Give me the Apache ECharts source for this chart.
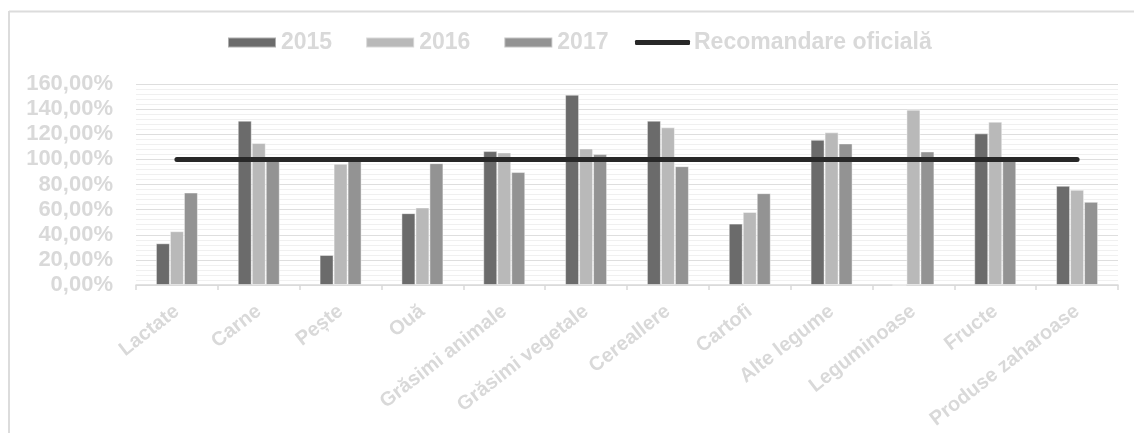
<!DOCTYPE html>
<html>
<head>
<meta charset="utf-8">
<script src="https://cdn.jsdelivr.net/npm/echarts@6/dist/echarts.min.js"></script>
<style>
  html, body { margin: 0; padding: 0; background: #ffffff; }
  #chart { width: 1134px; height: 433px; }
</style>
</head>
<body>
<div id="chart"></div>
<script>
// Food groups consumed, as a share of the official recommendation
const categories = ['Lactate', 'Carne', 'Pește', 'Ouă', 'Grăsimi animale', 'Grăsimi vegetale',
  'Cereallere', 'Cartofi', 'Alte legume', 'Leguminoase', 'Fructe', 'Produse zaharoase'];

// Values in percent
const values2015 = [33.2, 130.8, 23.9, 57.2, 106.6, 151.5, 130.8, 48.9, 115.6, 0, 120.7, 79.0];
const values2016 = [42.8, 113.0, 96.5, 61.7, 105.5, 108.7, 125.5, 58.2, 121.5, 139.6, 130.0, 75.8];
const values2017 = [73.6, 100.0, 99.0, 97.0, 89.9, 104.2, 94.6, 73.1, 112.7, 106.3, 100.0, 66.2];
const recommendation = [100, 100, 100, 100, 100, 100, 100, 100, 100, 100, 100, 100];

const yTicks = { min: 0, max: 160, interval: 20 };

const textColor = '#d9d9d9';
const fontFamily = '"Liberation Sans", Arial, sans-serif';

const chart = echarts.init(document.getElementById('chart'), null, { renderer: 'canvas' });

const barStyle = (color) => ({
  type: 'bar',
  barWidth: 14,
  barGap: '0%',
  itemStyle: { color: color, borderColor: 'rgba(255,255,255,0.45)', borderWidth: 1 },
  z: 2
});

const legendText = { color: textColor, fontSize: 23, fontWeight: 'bold', fontFamily: fontFamily };

chart.setOption({
  animation: false,
  backgroundColor: '#ffffff',
  textStyle: { fontFamily: fontFamily },
  graphic: [
    { type: 'line', shape: { x1: 9, y1: 11.5, x2: 1134, y2: 11.5 }, style: { stroke: '#dcdcdc', lineWidth: 2 } },
    { type: 'line', shape: { x1: 9, y1: 11, x2: 9, y2: 433 }, style: { stroke: '#dcdcdc', lineWidth: 2 } }
  ],
  legend: [
    {
      data: ['2015', '2016', '2017'],
      left: 227,
      top: 31,
      padding: 0,
      itemWidth: 48,
      itemHeight: 10,
      itemGap: 33,
      icon: 'rect',
      textStyle: Object.assign({ padding: [0, 0, 0, 0] }, legendText)
    },
    {
      data: ['Recomandare oficială'],
      left: 635,
      top: 31,
      padding: 0,
      itemWidth: 55,
      itemHeight: 5,
      icon: 'roundRect',
      textStyle: Object.assign({ padding: [0, 0, 0, -1] }, legendText)
    }
  ],
  grid: { left: 136, right: 16, top: 84, bottom: 148, containLabel: false },
  xAxis: {
    type: 'category',
    data: categories,
    boundaryGap: true,
    axisLine: { lineStyle: { color: '#d9d9d9', width: 1.5 } },
    axisTick: { show: true, length: 5, lineStyle: { color: '#d9d9d9', width: 1.5 } },
    axisLabel: {
      interval: 0,
      rotate: 38,
      margin: 24,
      color: textColor,
      fontSize: 20,
      fontWeight: 'bold',
      fontFamily: fontFamily
    }
  },
  yAxis: {
    type: 'value',
    min: yTicks.min,
    max: yTicks.max,
    interval: yTicks.interval,
    axisLine: { show: false },
    axisTick: { show: false },
    axisLabel: {
      margin: 23,
      color: textColor,
      fontSize: 22,
      fontWeight: 'bold',
      fontFamily: fontFamily,
      formatter: (v) => v + ',00%'
    },
    splitLine: { lineStyle: { color: '#dedede', width: 1.2 } },
    minorTick: { show: false, splitNumber: 5 },
    minorSplitLine: { show: true, lineStyle: { color: '#f0f0f0', width: 1 } }
  },
  series: [
    Object.assign({ name: '2015', data: values2015 }, barStyle('#6b6b6b')),
    Object.assign({ name: '2016', data: values2016 }, barStyle('#b9b9b9')),
    Object.assign({ name: '2017', data: values2017 }, barStyle('#939393')),
    {
      name: 'Recomandare oficială',
      type: 'line',
      data: recommendation,
      symbol: 'none',
      itemStyle: { color: '#282828' },
      lineStyle: { color: '#282828', width: 5, cap: 'round' },
      z: 5
    }
  ]
});
</script>
</body>
</html>
